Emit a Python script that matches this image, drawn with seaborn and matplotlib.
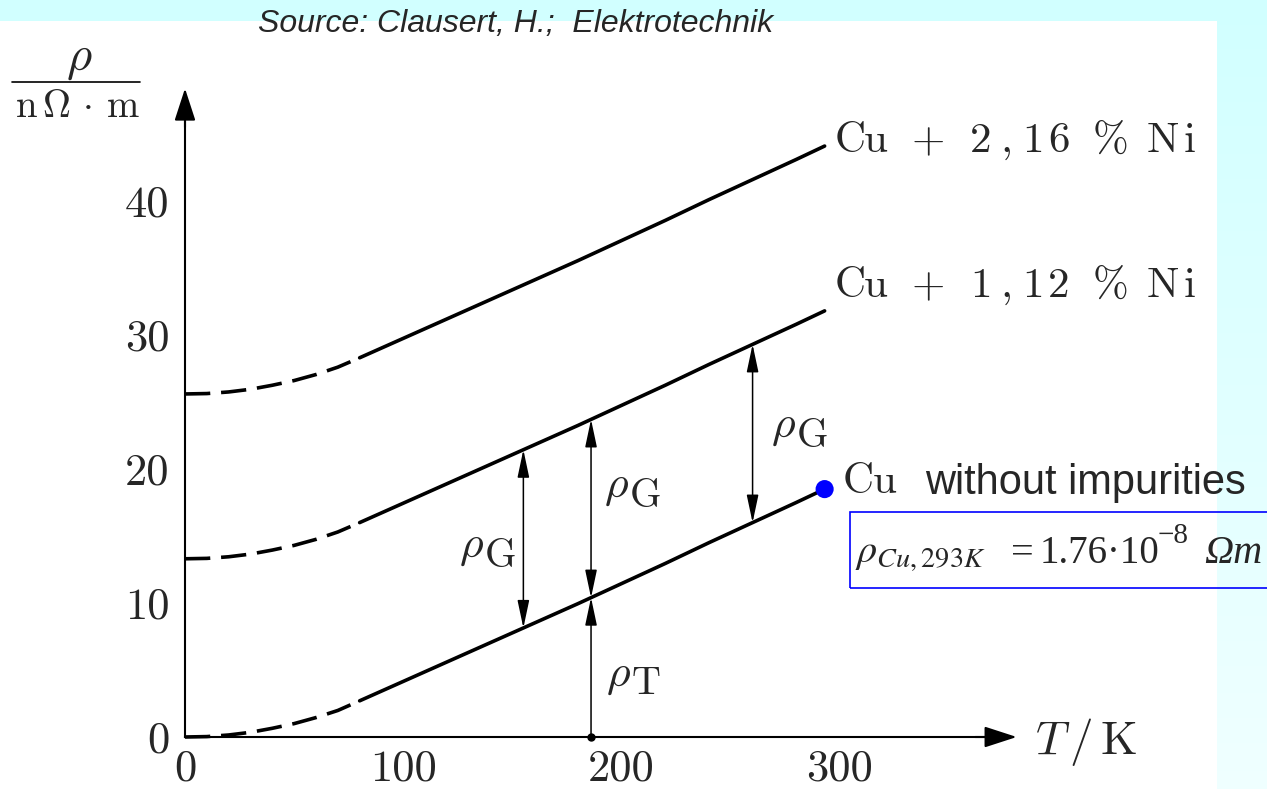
import os
import numpy as np
import pandas as pd
import matplotlib
matplotlib.use("Agg")
import matplotlib.pyplot as plt
from matplotlib import font_manager as fm
from matplotlib.patches import Rectangle
from matplotlib.lines import Line2D
import seaborn as sns

# ---------------- data ----------------
T_low = [0, 10, 20, 30, 40, 50, 60, 70, 80]
T_high = [80, 100, 120, 140, 160, 180, 200, 220, 240, 260, 280, 293]
rho_cu_low = [0.0, 0.03, 0.15, 0.35, 0.65, 1.0, 1.45, 1.98, 2.7]
rho_cu_high = [2.7, 4.15, 5.6, 7.05, 8.5, 9.95, 11.45, 12.95, 14.5, 16.0, 17.5, 18.5]
rho_ni112_low = [13.3, 13.33, 13.45, 13.65, 13.95, 14.3, 14.75, 15.3, 16.0]
rho_ni112_high = [16.0, 17.45, 18.9, 20.35, 21.8, 23.25, 24.75, 26.25, 27.8, 29.3, 30.8, 31.8]
rho_ni216_low = [25.6, 25.63, 25.75, 25.95, 26.25, 26.6, 27.05, 27.6, 28.3]
rho_ni216_high = [28.3, 29.75, 31.2, 32.65, 34.1, 35.55, 37.05, 38.55, 40.1, 41.6, 43.1, 44.1]
series_labels = ["Cu + 2,16 % Ni", "Cu + 1,12 % Ni", "Cu"]
T_arrows_G = [155, 186, 260]
T_arrow_T = 186
T_dot = 293
rho_dot = 18.5
x_ticks = [0, 100, 200, 300]
x_ticklabels = ["0", "100", "200", "300"]
y_ticks = [0, 10, 20, 30, 40]
y_ticklabels = ["0", "10", "20", "30", "40"]

# ---------------- fonts ----------------
ttf_dir = os.path.join(matplotlib.get_data_path(), "fonts", "ttf")
p_rm = os.path.join(ttf_dir, "cmr10.ttf")
fm.fontManager.addfont(p_rm)


def rm(size):
    return fm.FontProperties(fname=p_rm, size=size)


sns.set_style("white")
plt.rcParams["font.family"] = ["DejaVu Sans"]
plt.rcParams["mathtext.fontset"] = "cm"
plt.rcParams["axes.unicode_minus"] = False

W, H = 1267, 789
fig = plt.figure(figsize=(W / 100, H / 100), dpi=100)


def fx(x):
    return x / W


def fy(y):
    return 1 - y / H


# background
bg = fig.add_axes([0, 0, 1, 1], zorder=-5)
grad = np.linspace(0, 1, 256).reshape(-1, 1)
c_top = np.array([0.82, 1.0, 1.0])
c_bot = np.array([0.94, 1.0, 1.0])
img = c_top[None, None, :] * (1 - grad[:, :, None]) + c_bot[None, None, :] * grad[:, :, None]
bg.imshow(img, aspect="auto", extent=[0, 1, 0, 1], origin="upper")
bg.add_patch(Rectangle((0, 0), fx(1217), fy(21), color="white", lw=0))
bg.set_xlim(0, 1)
bg.set_ylim(0, 1)
bg.axis("off")

# main axes with mapping: x_px = 185 + 2.183*T ; y_px = 737 - 13.4*rho
sx, sy = 2.183, 13.4
x0, x1 = -80, 490
y0, y1 = -3.5, 52.5
Lp = 185 + sx * x0
Rp = 185 + sx * x1
Bp = 737 - sy * y0
Tp = 737 - sy * y1
ax = fig.add_axes([Lp / W, fy(Bp), (Rp - Lp) / W, (Bp - Tp) / H])
ax.set_facecolor("none")
ax.set_xlim(x0, x1)
ax.set_ylim(y0, y1)

lw_curve = 2.6
dash = (0, (7, 3))
for Tl, rl, Th, rh in [(T_low, rho_cu_low, T_high, rho_cu_high),
                       (T_low, rho_ni112_low, T_high, rho_ni112_high),
                       (T_low, rho_ni216_low, T_high, rho_ni216_high)]:
    sns.lineplot(x=Tl, y=rl, ax=ax, color="black", lw=lw_curve, linestyle=dash, sort=False)
    sns.lineplot(x=Th, y=rh, ax=ax, color="black", lw=lw_curve, sort=False,
                 solid_capstyle="round")

# axes spines
for s in ["top", "right"]:
    ax.spines[s].set_visible(False)
ax.spines["left"].set_position(("data", 0))
ax.spines["bottom"].set_position(("data", 0))
ax.spines["left"].set_bounds(0, 46.5)
ax.spines["bottom"].set_bounds(0, 370)
for s in ["left", "bottom"]:
    ax.spines[s].set_linewidth(1.5)
    ax.spines[s].set_color("black")

ahead = dict(arrowstyle="-|>,head_length=2.0,head_width=0.65", mutation_scale=10,
             color="black", lw=1.5, shrinkA=0, shrinkB=0)
ax.annotate("", xy=(0, 48.4), xytext=(0, 45.5), arrowprops=ahead)
ax.annotate("", xy=(381, 0), xytext=(362, 0), arrowprops=ahead)

ax.set_xticks(x_ticks)
ax.set_xticklabels(x_ticklabels, fontproperties=rm(32))
ax.set_yticks(y_ticks)
ax.set_yticklabels(y_ticklabels, fontproperties=rm(32))
ax.tick_params(direction="inout", length=10, width=1.1, color="black", pad=4)
ax.tick_params(axis="y", pad=6)
ax.xaxis.get_major_ticks()[0].tick1line.set_visible(False)
ax.yaxis.get_major_ticks()[0].tick1line.set_visible(False)
ax.set_xlabel("")
ax.set_ylabel("")

# rho_G arrows
small = dict(arrowstyle="<|-|>,head_length=1.7,head_width=0.36", mutation_scale=10,
             color="black", lw=1.1, shrinkA=0, shrinkB=0)
cu_T = T_low + T_high[1:]
cu_r = rho_cu_low + rho_cu_high[1:]
ni_r = rho_ni112_low + rho_ni112_high[1:]
for t in T_arrows_G:
    lo = np.interp(t, cu_T, cu_r)
    hi = np.interp(t, cu_T, ni_r)
    ax.annotate("", xy=(t, hi), xytext=(t, lo), arrowprops=small)
single = dict(small)
single["arrowstyle"] = "-|>,head_length=1.7,head_width=0.36"
ax.annotate("", xy=(T_arrow_T, np.interp(T_arrow_T, cu_T, cu_r)), xytext=(T_arrow_T, 0),
            arrowprops=single)
ax.plot([T_arrow_T], [0], "o", color="black", ms=5, zorder=5)

# blue dot
sns.scatterplot(x=[T_dot], y=[rho_dot], ax=ax, color="#0000ff", s=170, edgecolor="none",
                zorder=6)

# ---------------- texts ----------------
fig.text(fx(258), fy(24), "Source: Clausert, H.;  Elektrotechnik", style="italic",
         family="Liberation Sans", fontsize=23, va="center", ha="left")

# unit fraction
fig.text(fx(79), fy(58), r"$\rho$", fontsize=35, ha="center", va="center")
fig.add_artist(Line2D([fx(12), fx(140)], [fy(82), fy(82)], lw=1.2, color="black",
                      transform=fig.transFigure))
fig.text(fx(77), fy(106), r"$\mathrm{n}\,\Omega\,\cdot\,\mathrm{m}$", fontsize=28,
         ha="center", va="center")

fig.text(fx(1035), fy(742), r"$T\,/\,\mathrm{K}$", fontsize=34, ha="left", va="center")


def mono_text(s, xc0, yb, pitch, size=31):
    """typewriter-like layout: every character on a fixed pitch"""
    for i, ch in enumerate(s):
        if ch != " ":
            fig.text(fx(xc0 + i * pitch), fy(yb), ch, fontproperties=rm(size),
                     ha="center", va="baseline")


mono_text(series_labels[0], 850, 152, 26.1)
mono_text(series_labels[1], 850, 297, 26.1)
mono_text(series_labels[2], 858, 493, 27.0)
fig.text(fx(925), fy(483), "without impurities", family="Liberation Sans", fontsize=30,
         va="center")


def rho_lab(xr, yb, sub, ysub):
    fig.text(fx(xr), fy(yb), r"$\rho$", fontsize=33, va="baseline", ha="left")
    fig.text(fx(xr + 26), fy(ysub), sub, fontproperties=rm(29), va="baseline",
             ha="left")


rho_lab(459, 557, "G", 567)
rho_lab(604, 497, "G", 507)
rho_lab(771, 437, "G", 447)
rho_lab(606, 686, "T", 694)

# formula in the blue box
serif = dict(family="Liberation Serif", va="baseline", ha="left")
fig.text(fx(855), fy(563), r"$\rho_{Cu,293K}$", math_fontfamily="stix", fontsize=29,
         va="baseline", ha="left")
fig.text(fx(1011), fy(563), "=", fontsize=29, **serif)
fig.text(fx(1040), fy(563), "1.76\u00b710", fontsize=28, **serif)
fig.text(fx(1158), fy(543), "\u22128", fontsize=21, **serif)
fig.text(fx(1204), fy(563), "\u03a9m", style="italic", fontsize=29, **serif)
fig.add_artist(Rectangle((fx(850), fy(588)), fx(1300) - fx(850), fy(512) - fy(588),
                         transform=fig.transFigure, fill=False, edgecolor="#0000ff",
                         lw=1.2))

fig.savefig("out.png", dpi=100)
